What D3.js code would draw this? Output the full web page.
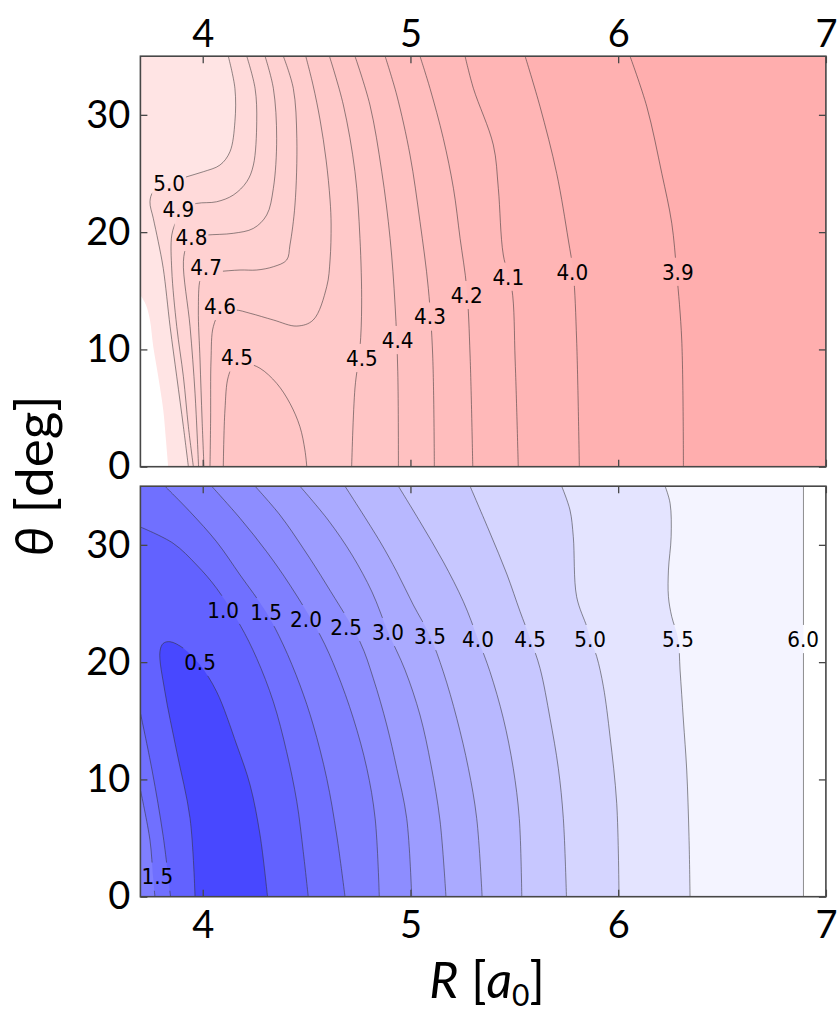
<!DOCTYPE html>
<html><head><meta charset="utf-8">
<script src="https://cdn.jsdelivr.net/npm/d3@7"></script>
<style>body{margin:0;background:#fff}</style>
</head><body>
<svg id="c" width="839" height="1013"></svg>
<script>
// ---------- data ----------
const rDomain = [3.7, 7];
const thetaDomain = [0, 35];
const xTickValues = [4, 5, 6, 7];
const yTickValues = [0, 10, 20, 30];

// upper panel: contour levels and lines, points are [R, theta]
const topLevels = [5.0, 4.9, 4.8, 4.7, 4.6, 4.5, 4.4, 4.3, 4.2, 4.1, 4.0, 3.9];
const top50 = [[4.123,35],[4.155,32.26],[4.155,29.41],[4.131,26.85],[4.083,25.72],[4.003,25.15],[3.923,24.72],[3.843,24.19],[3.762,23.44],[3.746,22.59],[3.762,21.18],[3.786,19.18],[3.810,16.91],[3.843,11.94],[3.875,7.67],[3.907,3.41],[3.931,0]];
const top49 = [[4.212,35],[4.252,32.26],[4.260,29.41],[4.244,25.72],[4.212,24.30],[4.147,23.16],[4.067,22.59],[3.971,22.45],[3.881,21.97],[3.875,21.18],[3.851,19.75],[3.851,16.77],[3.875,11.94],[3.907,7.67],[3.931,3.41],[3.955,0]];
const top48 = [[4.300,35],[4.340,32.26],[4.356,28.00],[4.340,23.73],[4.308,21.46],[4.244,20.32],[4.147,19.90],[4.019,19.75],[3.946,19.58],[3.923,18.90],[3.907,17.48],[3.939,11.94],[3.963,6.26],[3.980,0]];
const top47 = [[4.388,35],[4.436,32.26],[4.453,28.00],[4.444,22.31],[4.420,18.90],[4.404,17.62],[4.340,17.05],[4.260,16.77],[4.180,16.77],[4.067,16.62],[4.003,16.49],[3.987,15.92],[3.979,13.36],[3.987,9.10],[3.997,3.98],[4.006,0]];
const top46 = [[4.496,35],[4.531,32.54],[4.565,29.56],[4.594,26.15],[4.613,22.74],[4.618,20.61],[4.613,17.62],[4.597,15.35],[4.532,12.51],[4.453,11.99],[4.340,12.51],[4.228,13.08],[4.155,13.36],[4.083,13.08],[4.051,11.94],[4.040,9.10],[4.038,3.98],[4.035,0]];
const top45 = [[4.610,35],[4.677,30.84],[4.733,25.15],[4.757,19.47],[4.765,13.79],[4.757,10.12],[4.733,6.71],[4.717,0]];
const top45dome = [[4.099,0],[4.107,4.83],[4.123,7.67],[4.155,8.81],[4.212,8.81],[4.276,8.39],[4.356,7.11],[4.420,5.40],[4.468,3.41],[4.492,1.42],[4.501,0]];
const top44 = [[4.733,35],[4.805,30.84],[4.862,25.15],[4.902,19.47],[4.926,13.79],[4.939,8.10],[4.942,0]];
const top43 = [[4.878,35],[4.934,31.69],[4.998,26.57],[5.046,20.89],[5.086,15.21],[5.107,9.52],[5.115,0]];
const top42 = [[5.046,35],[5.094,32.26],[5.158,28.00],[5.207,23.73],[5.239,19.47],[5.271,15.21],[5.287,9.52],[5.300,0]];
const top41 = [[5.263,35],[5.303,32.26],[5.399,27.43],[5.423,23.73],[5.447,18.05],[5.488,15.21],[5.504,9.10],[5.519,0]];
const top40 = [[5.552,35],[5.624,30.69],[5.704,25.01],[5.760,19.33],[5.784,16.51],[5.800,10.80],[5.813,0]];
const top39 = [[6.057,35],[6.138,30.69],[6.210,25.01],[6.258,20.75],[6.282,16.49],[6.306,10.80],[6.314,0]];
const topNoData = [[3.7,14.64],[3.727,13.79],[3.746,12.51],[3.762,10.23],[3.786,7.67],[3.810,4.83],[3.823,2.28],[3.834,0]];
const topLabelText = ["5.0","4.9","4.8","4.7","4.6","4.5","4.5","4.4","4.3","4.2","4.1","4.0","3.9"];
const topLabelPos = [[3.838,24.19],[3.883,21.93],[3.946,19.58],[4.016,17.02],[4.083,13.70],[4.165,9.31],[4.766,9.27],[4.938,10.80],[5.094,12.80],[5.271,14.64],[5.471,16.20],[5.779,16.62],[6.287,16.62]];

// lower panel
const botLevels = [6.0, 5.5, 5.0, 4.5, 4.0, 3.5, 3.0, 2.5, 2.0, 1.5, 1.0, 0.5];
const bot60 = [[6.892,35],[6.892,0]];
const bot55 = [[6.226,35],[6.250,33.54],[6.255,30.69],[6.242,27.85],[6.242,25.58],[6.258,23.87],[6.288,22.03],[6.298,19.33],[6.314,15.06],[6.330,10.80],[6.341,5.12],[6.346,0]];
const bot50 = [[5.728,35],[5.768,32.97],[5.784,30.69],[5.800,25.58],[5.849,23.02],[5.865,22.03],[5.897,20.46],[5.929,17.90],[5.961,13.64],[5.993,7.96],[6.004,0]];
const bot45 = [[5.287,35],[5.383,31.01],[5.464,27.51],[5.528,24.30],[5.576,22.03],[5.624,19.47],[5.672,15.21],[5.712,10.95],[5.736,6.68],[5.751,0]];
const bot40 = [[4.942,35],[5.046,31.97],[5.158,28.56],[5.255,25.15],[5.325,21.97],[5.383,19.18],[5.447,15.21],[5.495,10.95],[5.524,6.68],[5.536,0]];
const bot35 = [[4.685,35],[4.854,30.26],[4.934,27.71],[5.014,24.87],[5.094,22.23],[5.158,19.18],[5.223,15.21],[5.279,10.95],[5.319,6.68],[5.345,0]];
const bot30 = [[4.468,35],[4.604,32.11],[4.719,29.13],[4.815,25.98],[4.892,22.57],[4.974,19.33],[5.046,15.49],[5.099,11.23],[5.142,6.54],[5.171,0]];
const bot25 = [[4.252,35],[4.372,32.54],[4.484,29.70],[4.597,26.57],[4.757,21.74],[4.821,18.62],[4.886,14.64],[4.934,10.95],[4.982,6.68],[5.006,0]];
const bot20 = [[4.043,35],[4.180,32.26],[4.308,29.41],[4.420,26.57],[4.565,22.31],[4.645,19.18],[4.725,15.21],[4.790,10.95],[4.830,6.68],[4.850,0]];
const bot15 = [[3.818,35],[3.939,32.82],[4.067,30.26],[4.180,27.43],[4.305,24.27],[4.388,21.46],[4.468,18.05],[4.532,14.64],[4.597,10.09],[4.645,5.26],[4.685,0]];
const bot15left = [[3.7,9.10],[3.746,4.83],[3.761,1.68],[3.770,0]];
const bot10 = [[3.7,31.52],[3.858,30.13],[3.971,28.28],[4.067,26.29],[4.180,23.16],[4.260,20.32],[4.340,16.62],[4.404,12.36],[4.453,8.10],[4.484,3.84],[4.508,0]];
const bot10left = [[3.7,15.66],[3.756,10.80],[3.810,5.12],[3.845,0]];
const bot05 = [[3.963,0],[3.939,6.68],[3.875,12.36],[3.818,17.48],[3.794,20.89],[3.810,21.60],[3.843,21.74],[3.907,21.18],[3.987,19.75],[4.067,17.48],[4.164,12.93],[4.228,9.52],[4.276,5.26],[4.312,0]];
const botLabelText = ["1.0","1.5","2.0","2.5","3.0","3.5","4.0","4.5","5.0","5.5","6.0","0.5","1.5"];
const botLabelPos = [[4.098,24.46],[4.305,24.27],[4.497,23.67],[4.690,23.00],[4.892,22.57],[5.094,22.23],[5.325,21.97],[5.576,21.97],[5.865,21.97],[6.288,21.97],[6.890,21.97],[3.987,20.03],[3.782,1.71]];

// ---------- styles ----------
const topBandColors = ["#ffe4e4","#ffdada","#ffd5d5","#ffd1d1","#ffcdcd","#ffc9c9","#ffc5c5","#ffc1c1","#ffbdbd","#ffb9b9","#ffb5b5","#ffb1b1","#ffaeae"];
const botBandColors = ["#4848ff","#6262ff","#7070ff","#7f7fff","#8d8dff","#9c9cff","#aaaaff","#b8b8ff","#c7c7ff","#d5d5ff","#e4e4ff","#f4f4ff","#ffffff"];

const svg = d3.select("#c");
const defs = svg.append("defs");
const x = d3.scaleLinear().domain(rDomain).range([140.4, 825.9]);
const yTop = d3.scaleLinear().domain(thetaDomain).range([466.7, 56.2]);
const yBot = d3.scaleLinear().domain(thetaDomain).range([896.7, 486.2]);

function panel(id, y, baseColor, fills, lines, labelText, labelPos, extra) {
  const line = d3.line().x(d => x(d[0])).y(d => y(d[1])).curve(d3.curveCatmullRom.alpha(0.5));
  const x0 = x(rDomain[0]), x1 = x(rDomain[1]), y0 = y(thetaDomain[1]), y1 = y(thetaDomain[0]);
  defs.append("clipPath").attr("id", "clip" + id).append("rect")
    .attr("x", x0).attr("y", y0).attr("width", x1 - x0).attr("height", y1 - y0);
  const g = svg.append("g").attr("clip-path", `url(#clip${id})`);
  g.append("rect").attr("x", x0).attr("y", y0).attr("width", x1 - x0).attr("height", y1 - y0).attr("fill", baseColor);
  fills.forEach(f => {
    f.parts.forEach(p => {
      let d = line(p.pts);
      if (p.withPts) d += "L" + line(p.withPts.slice().reverse()).slice(1);
      (p.corners || []).forEach(c => { d += `L${x(c[0])},${y(c[1])}`; });
      d += "Z";
      g.append("path").attr("d", d).attr("fill", f.color);
    });
  });
  if (extra) extra(g, line);
  const mask = defs.append("mask").attr("id", "mask" + id).attr("maskUnits", "userSpaceOnUse")
    .attr("x", 0).attr("y", 0).attr("width", 839).attr("height", 1013);
  mask.append("rect").attr("x", 0).attr("y", 0).attr("width", 839).attr("height", 1013).attr("fill", "#fff");
  const lg = g.append("g").attr("mask", `url(#mask${id})`);
  lines.forEach(l => {
    lg.append("path").attr("d", line(l)).attr("fill", "none")
      .attr("stroke", "#303030").attr("stroke-opacity", 0.6).attr("stroke-width", 0.9);
  });
  const sy = 1.1;
  labelText.forEach((t, i) => {
    const cx = x(labelPos[i][0]), cy = y(labelPos[i][1]);
    const txt = g.append("text").text(t)
      .attr("text-anchor", "middle").attr("dominant-baseline", "central")
      .attr("font-family", "DejaVu Sans").attr("font-size", 20).attr("fill", "#000")
      .attr("transform", `translate(${cx},${cy}) scale(1,${sy})`);
    const bb = txt.node().getBBox();
    mask.append("rect").attr("x", cx + bb.x - 1).attr("y", cy + bb.y * sy - 1)
      .attr("width", bb.width + 2).attr("height", bb.height * sy + 2).attr("fill", "#000");
  });
  svg.append("rect").attr("x", x0).attr("y", y0).attr("width", x1 - x0).attr("height", y1 - y0)
    .attr("fill", "none").attr("stroke", "#474747").attr("stroke-width", 1.6);
  const tick = s => s.call(a => a.select(".domain").remove())
    .call(a => a.selectAll(".tick line").attr("stroke", "#474747").attr("stroke-width", 1.3));
  svg.append("g").attr("transform", `translate(0,${y1})`)
    .call(d3.axisBottom(x).tickValues(xTickValues).tickSize(-7).tickFormat("")).call(tick);
  svg.append("g").attr("transform", `translate(0,${y0})`)
    .call(d3.axisTop(x).tickValues(xTickValues).tickSize(-7).tickFormat("")).call(tick);
  svg.append("g").attr("transform", `translate(${x1},0)`)
    .call(d3.axisRight(y).tickValues(yTickValues).tickSize(-7).tickFormat("")).call(tick);
  svg.append("g").attr("class", "lab").attr("transform", `translate(${x0},0)`)
    .call(d3.axisLeft(y).tickValues(yTickValues).tickSize(-7).tickPadding(10).tickFormat(d3.format("d"))).call(tick);
}

const topLineSets = [top50, top49, top48, top47, top46, top45, top44, top43, top42, top41, top40, top39];
const rightCorners = [[rDomain[1], 0], [rDomain[1], 35]];
const topFills = topLevels.map((L, i) => {
  const parts = [{pts: topLineSets[i], corners: rightCorners}];
  if (L === 4.5) parts.push({pts: top45dome, corners: []});
  return {color: topBandColors[i + 1], parts};
});
panel("T", yTop, topBandColors[0], topFills,
  [...topLineSets, top45dome], topLabelText, topLabelPos,
  (g, line) => {
    let d = line(topNoData) + `L${x(3.7)},${yTop(0)}Z`;
    g.append("path").attr("d", d).attr("fill", "#ffffff");
  });

const botLineSets = [bot60, bot55, bot50, bot45, bot40, bot35, bot30, bot25, bot20, bot15, bot10, bot05];
const leftCorners = [[rDomain[0], 0], [rDomain[0], 35]];
const botFills = botLevels.map((L, i) => {
  let part;
  if (L === 1.5) part = {pts: bot15, withPts: bot15left, corners: [[rDomain[0], 35]]};
  else if (L === 1.0) part = {pts: bot10, withPts: bot10left, corners: []};
  else if (L === 0.5) part = {pts: bot05, corners: []};
  else part = {pts: botLineSets[i], corners: leftCorners};
  return {color: botBandColors[botLevels.length - 1 - i], parts: [part]};
});
panel("B", yBot, botBandColors[12], botFills,
  [...botLineSets, bot15left, bot10left], botLabelText, botLabelPos, null);

svg.append("g").attr("class", "lab").attr("transform", `translate(0,${yTop(35)})`)
  .call(d3.axisTop(x).tickValues(xTickValues).tickSize(0).tickPadding(9).tickFormat(d3.format("d")))
  .call(a => a.select(".domain").remove());
svg.append("g").attr("class", "lab").attr("transform", `translate(0,${yBot(0)})`)
  .call(d3.axisBottom(x).tickValues(xTickValues).tickSize(0).tickPadding(14).tickFormat(d3.format("d")))
  .call(a => a.select(".domain").remove());
svg.selectAll(".lab .tick text").attr("font-family", "Lato, 'Open Sans', sans-serif")
  .attr("font-size", 38).attr("fill", "#000");

const xl = svg.append("text").attr("x", 487).attr("y", 998).attr("text-anchor", "middle")
  .attr("font-family", "Lato, 'Open Sans', sans-serif").attr("font-size", 50).attr("fill", "#000");
xl.append("tspan").attr("font-style", "italic").text("R");
xl.append("tspan").text(" [");
xl.append("tspan").attr("font-style", "italic").text("a");
xl.append("tspan").attr("font-size", 30).attr("dy", 8).text("0");
xl.append("tspan").attr("dy", -8).text("]");

const yl = svg.append("text").attr("transform", "translate(53,476) rotate(-90)").attr("text-anchor", "middle")
  .attr("font-family", "Lato, 'Open Sans', sans-serif").attr("font-size", 53).attr("fill", "#000");
yl.append("tspan").attr("font-style", "italic").text("θ");
yl.append("tspan").text(" [deg]");
</script>
</body></html>
